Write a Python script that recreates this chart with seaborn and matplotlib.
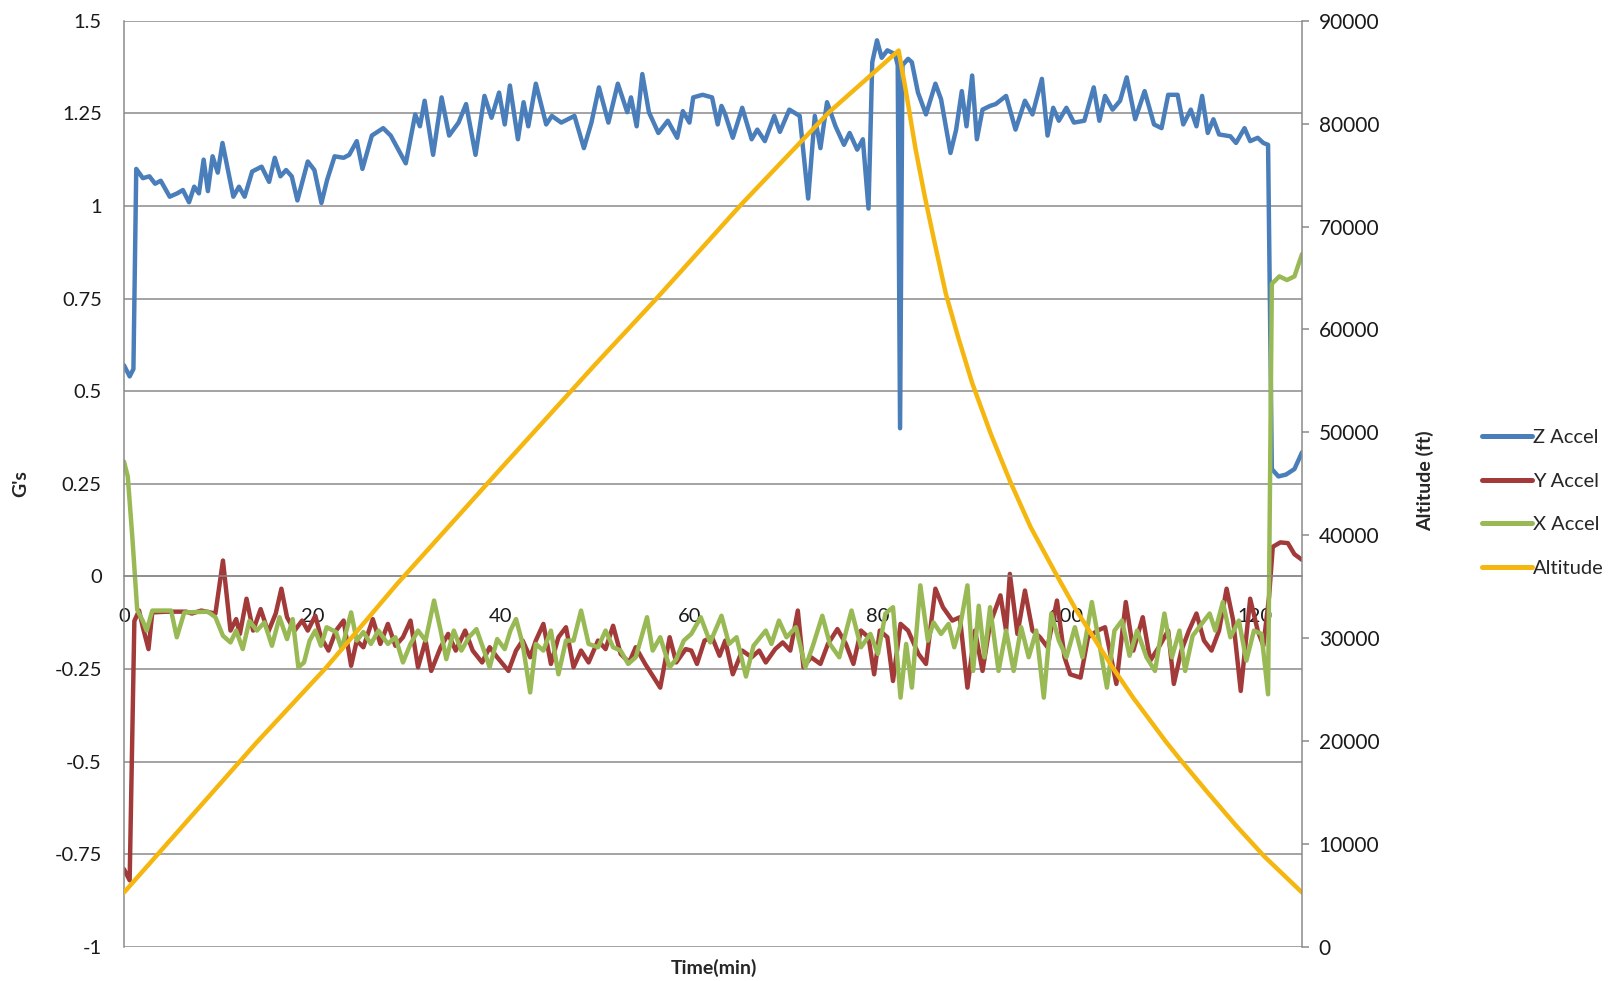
import matplotlib
matplotlib.use('Agg')
import matplotlib.pyplot as plt
import seaborn as sns

# Time (min) and readings for each series
Z_TIME = [0.0, 0.6, 1.0, 1.3, 2.0, 2.7, 3.3, 3.9, 4.85, 5.65, 6.25, 6.9, 7.45, 7.95, 8.45, 8.9, 9.4, 9.95,
          10.45, 11.6, 12.2, 12.8, 13.6, 14.6, 15.4, 16.0, 16.6, 17.2, 17.8, 18.4, 19.5, 20.2, 20.95, 21.55,
          22.35, 23.3, 23.9, 24.7, 25.3, 26.3, 27.5, 28.3, 29.9, 30.9, 31.4, 31.9, 32.8, 33.7, 34.5, 35.5,
          36.3, 37.3, 38.25, 39.0, 39.8, 40.4, 40.95, 41.8, 42.4, 42.9, 43.7, 44.8, 45.4, 46.4, 47.8, 48.8,
          49.6, 50.4, 51.4, 52.4, 53.4, 53.8, 54.4, 55.0, 55.7, 56.7, 57.7, 58.7, 59.3, 60.0, 60.4, 61.4,
          62.4, 63.0, 63.4, 63.8, 64.6, 65.6, 66.6, 67.2, 68.0, 69.0, 69.6, 70.6, 71.7, 72.6, 73.3, 73.9,
          74.6, 75.5, 76.4, 77.0, 77.8, 78.4, 79.0, 79.4, 79.9, 80.4, 81.0, 81.8, 82.1, 82.35, 82.6, 83.2,
          83.6, 84.25, 85.1, 86.1, 86.7, 87.7, 88.3, 88.9, 89.4, 90.0, 90.5, 91.1, 91.9, 92.5, 93.6, 94.6,
          95.6, 96.4, 97.4, 98.0, 98.6, 99.2, 100.0, 100.8, 101.9, 102.9, 103.5, 104.1, 104.9, 105.7, 106.4,
          107.3, 108.3, 109.3, 110.1, 110.8, 111.8, 112.4, 113.2, 113.8, 114.4, 115.0, 115.6, 116.2, 117.4,
          118.0, 118.9, 119.5, 120.3, 120.9, 121.4, 121.8, 122.5, 123.3, 124.2, 125.0]
Z_ACCEL = [0.57, 0.54, 0.56, 1.10, 1.075, 1.08, 1.06, 1.068, 1.025, 1.034, 1.043, 1.01, 1.052, 1.034, 1.125,
           1.04, 1.134, 1.09, 1.17, 1.025, 1.052, 1.025, 1.093, 1.106, 1.065, 1.13, 1.08, 1.097, 1.08, 1.015,
           1.12, 1.097, 1.008, 1.07, 1.134, 1.13, 1.138, 1.175, 1.10, 1.19, 1.21, 1.19, 1.115, 1.247, 1.215,
           1.284, 1.138, 1.293, 1.19, 1.225, 1.275, 1.138, 1.297, 1.238, 1.306, 1.22, 1.325, 1.18, 1.28,
           1.215, 1.33, 1.22, 1.243, 1.225, 1.243, 1.156, 1.225, 1.32, 1.225, 1.33, 1.253, 1.293, 1.215,
           1.356, 1.253, 1.197, 1.23, 1.184, 1.256, 1.225, 1.293, 1.30, 1.293, 1.22, 1.27, 1.247, 1.184,
           1.265, 1.18, 1.206, 1.175, 1.243, 1.20, 1.26, 1.243, 1.02, 1.243, 1.156, 1.28, 1.215, 1.165,
           1.197, 1.152, 1.18, 0.993, 1.388, 1.447, 1.40, 1.42, 1.41, 1.38, 0.40, 1.38, 1.397, 1.388, 1.306,
           1.247, 1.33, 1.288, 1.143, 1.206, 1.31, 1.215, 1.352, 1.18, 1.26, 1.27, 1.275, 1.297, 1.206,
           1.284, 1.247, 1.343, 1.19, 1.265, 1.23, 1.265, 1.225, 1.23, 1.32, 1.23, 1.297, 1.26, 1.284, 1.347,
           1.234, 1.31, 1.22, 1.21, 1.30, 1.30, 1.22, 1.26, 1.215, 1.297, 1.197, 1.234, 1.193, 1.188, 1.17,
           1.21, 1.175, 1.184, 1.17, 1.165, 0.29, 0.27, 0.275, 0.29, 0.335]

Y_TIME = [0.0, 0.6, 1.1, 1.6, 2.0, 2.6, 3.0, 4.5, 6.6, 7.2, 8.2, 9.7, 10.5, 11.3, 11.9, 12.3, 13.0, 13.7,
          14.5, 15.3, 16.1, 16.7, 17.3, 18.1, 18.9, 19.5, 20.3, 20.9, 21.7, 22.5, 23.3, 24.1, 24.7, 25.4,
          26.4, 27.2, 28.0, 28.8, 29.6, 30.4, 31.2, 32.0, 32.6, 33.6, 34.4, 35.2, 36.2, 37.0, 38.0, 38.8,
          39.6, 40.8, 41.6, 42.3, 43.1, 43.7, 44.5, 45.3, 46.1, 46.9, 47.7, 48.5, 49.3, 50.3, 51.1, 51.9,
          52.7, 53.6, 54.3, 55.3, 56.9, 57.9, 58.6, 59.6, 60.2, 60.8, 61.6, 62.4, 63.2, 63.8, 64.6, 65.6,
          66.6, 67.4, 68.1, 69.1, 69.9, 70.7, 71.5, 72.1, 72.9, 73.9, 74.7, 75.7, 76.6, 77.4, 78.2, 79.0,
          79.6, 80.2, 81.0, 81.6, 82.4, 83.2, 84.3, 85.1, 86.1, 86.9, 87.9, 88.7, 89.5, 90.3, 91.1, 91.9,
          93.0, 93.6, 94.0, 94.8, 95.6, 96.4, 97.2, 98.0, 99.0, 99.8, 100.4, 101.5, 102.3, 103.3, 104.1,
          105.3, 106.3, 107.1, 108.1, 108.9, 109.8, 110.8, 111.4, 112.2, 113.0, 113.8, 114.6, 115.4, 116.2,
          117.0, 117.7, 118.5, 119.5, 120.3, 120.9, 121.5, 121.9, 122.7, 123.5, 124.2, 125.0]
Y_ACCEL = [-0.79, -0.82, -0.12, -0.092, -0.137, -0.196, -0.097, -0.095, -0.095, -0.10, -0.092, -0.10, 0.043,
           -0.146, -0.115, -0.155, -0.06, -0.146, -0.088, -0.15, -0.10, -0.033, -0.11, -0.146, -0.119,
           -0.146, -0.106, -0.164, -0.20, -0.146, -0.119, -0.241, -0.173, -0.191, -0.115, -0.182, -0.128,
           -0.187, -0.164, -0.119, -0.245, -0.173, -0.255, -0.191, -0.155, -0.20, -0.146, -0.20, -0.232,
           -0.191, -0.218, -0.255, -0.20, -0.173, -0.218, -0.173, -0.128, -0.236, -0.164, -0.137, -0.245,
           -0.20, -0.232, -0.173, -0.196, -0.133, -0.209, -0.232, -0.191, -0.236, -0.30, -0.164, -0.232,
           -0.196, -0.20, -0.236, -0.173, -0.164, -0.214, -0.173, -0.264, -0.20, -0.218, -0.20, -0.232,
           -0.196, -0.178, -0.20, -0.092, -0.245, -0.218, -0.236, -0.182, -0.142, -0.182, -0.236, -0.146,
           -0.164, -0.264, -0.146, -0.164, -0.282, -0.128, -0.146, -0.209, -0.236, -0.033, -0.083, -0.119,
           -0.11, -0.30, -0.146, -0.255, -0.128, -0.051, -0.146, 0.007, -0.155, -0.038, -0.146, -0.164,
           -0.191, -0.065, -0.218, -0.264, -0.273, -0.164, -0.146, -0.137, -0.29, -0.069, -0.20, -0.11,
           -0.227, -0.191, -0.146, -0.29, -0.20, -0.146, -0.10, -0.173, -0.20, -0.146, -0.033, -0.119,
           -0.309, -0.06, -0.146, -0.187, -0.056, 0.08, 0.092, 0.09, 0.06, 0.045]

X_TIME = [0.0, 0.4, 0.9, 1.4, 2.0, 2.4, 3.0, 5.0, 5.6, 6.4, 8.9, 9.7, 10.5, 11.3, 11.9, 12.6, 13.3, 14.1,
          14.9, 15.7, 16.5, 17.3, 17.9, 18.5, 19.1, 19.7, 20.3, 20.9, 21.5, 22.5, 23.1, 24.1, 24.7, 25.4,
          26.2, 27.0, 28.0, 28.8, 29.6, 30.4, 31.2, 32.0, 32.9, 33.6, 34.2, 35.0, 35.8, 36.6, 37.4, 38.2,
          38.8, 39.6, 40.4, 41.0, 41.6, 42.3, 43.1, 43.7, 44.5, 45.3, 46.1, 46.9, 47.7, 48.5, 49.3, 50.3,
          51.1, 51.9, 52.7, 53.5, 54.3, 55.5, 56.1, 56.9, 57.9, 58.6, 59.4, 60.2, 61.2, 62.2, 63.4, 64.2,
          65.0, 66.0, 66.8, 68.1, 68.7, 69.5, 70.3, 71.3, 72.3, 73.1, 74.1, 74.9, 75.9, 77.2, 78.2, 79.2,
          80.0, 80.8, 81.6, 82.4, 83.0, 83.6, 84.5, 85.3, 85.9, 86.7, 87.5, 88.1, 88.7, 89.5, 90.1, 90.7,
          91.3, 91.9, 92.8, 93.6, 94.4, 95.2, 96.0, 96.8, 97.6, 98.4, 99.2, 100.0, 100.9, 101.7, 102.7,
          103.5, 104.3, 105.1, 105.9, 106.7, 107.5, 108.5, 109.4, 110.4, 111.2, 112.0, 112.6, 113.4, 114.2,
          115.2, 115.8, 116.6, 117.4, 118.3, 119.1, 119.9, 120.7, 121.4, 121.8, 122.6, 123.4, 124.2, 125.0]
X_ACCEL = [0.31, 0.27, 0.10, -0.09, -0.12, -0.146, -0.092, -0.092, -0.164, -0.097, -0.095, -0.11, -0.16,
           -0.178, -0.146, -0.196, -0.12, -0.146, -0.124, -0.187, -0.11, -0.169, -0.115, -0.245, -0.232,
           -0.173, -0.146, -0.187, -0.137, -0.15, -0.196, -0.097, -0.173, -0.15, -0.182, -0.146, -0.182,
           -0.164, -0.232, -0.182, -0.146, -0.173, -0.065, -0.146, -0.223, -0.146, -0.20, -0.164, -0.142,
           -0.20, -0.245, -0.169, -0.196, -0.146, -0.115, -0.182, -0.313, -0.182, -0.20, -0.146, -0.264,
           -0.173, -0.173, -0.092, -0.182, -0.191, -0.146, -0.191, -0.20, -0.236, -0.218, -0.11, -0.20,
           -0.164, -0.245, -0.223, -0.173, -0.155, -0.11, -0.178, -0.106, -0.182, -0.164, -0.27, -0.187,
           -0.146, -0.182, -0.119, -0.164, -0.137, -0.245, -0.187, -0.106, -0.182, -0.218, -0.092, -0.191,
           -0.155, -0.209, -0.10, -0.083, -0.327, -0.182, -0.30, -0.024, -0.173, -0.124, -0.155, -0.128,
           -0.191, -0.137, -0.024, -0.255, -0.079, -0.218, -0.083, -0.255, -0.146, -0.255, -0.137, -0.218,
           -0.146, -0.327, -0.10, -0.173, -0.218, -0.137, -0.218, -0.069, -0.182, -0.30, -0.146, -0.119,
           -0.214, -0.146, -0.218, -0.255, -0.10, -0.218, -0.146, -0.255, -0.16, -0.133, -0.10, -0.146,
           -0.069, -0.164, -0.119, -0.227, -0.146, -0.155, -0.318, 0.79, 0.81, 0.80, 0.81, 0.87]

ALT_TIME = [0.0, 14.0, 21.5, 29.0, 40.0, 50.0, 56.3, 65.5, 74.8, 82.2, 83.0, 84.0, 85.0, 86.0, 87.2, 88.5,
            90.0, 92.0, 94.0, 96.2, 98.8, 101.0, 104.8, 107.1, 110.6, 112.0, 115.0, 118.0, 121.0, 125.0]
ALTITUDE = [5300, 19800, 27200, 35300, 46500, 56600, 62800, 72150, 81100, 87100, 83000, 77500, 72800, 68500,
            63500, 59300, 54800, 49800, 45300, 40800, 36400, 32800, 27300, 24200, 19900, 18300, 15000, 11800,
            8800, 5300]

G_TICKS = [-1, -0.75, -0.5, -0.25, 0, 0.25, 0.5, 0.75, 1, 1.25, 1.5]
G_LABELS = ['-1', '-0.75', '-0.5', '-0.25', '0', '0.25', '0.5', '0.75', '1', '1.25', '1.5']
TIME_TICKS = [0, 20, 40, 60, 80, 100, 120]
ALT_TICKS = [0, 10000, 20000, 30000, 40000, 50000, 60000, 70000, 80000, 90000]

COLORS = {
    'Z Accel': '#4a7ebb',
    'Y Accel': '#a33a3a',
    'X Accel': '#98b954',
    'Altitude': '#f5b70f',
}
GRID = '#8a8a8a'
FONT = ['Lato', 'DejaVu Sans']


def main():
    sns.set_theme(style='white')
    plt.rcParams['font.family'] = FONT

    fig = plt.figure(figsize=(16.22, 9.81), dpi=100)
    W, H = 1622, 981
    left, right, top, bottom = 124, 1302, 20.7, 947
    ax = fig.add_axes([left / W, 1 - bottom / H, (right - left) / W, (bottom - top) / H])

    lw = 3.2
    line_kws = dict(lw=lw, estimator=None, sort=False, solid_joinstyle='round', solid_capstyle='round')
    sns.lineplot(x=Z_TIME, y=Z_ACCEL, ax=ax, color=COLORS['Z Accel'], **line_kws)
    sns.lineplot(x=Y_TIME, y=Y_ACCEL, ax=ax, color=COLORS['Y Accel'], **line_kws)
    sns.lineplot(x=X_TIME, y=X_ACCEL, ax=ax, color=COLORS['X Accel'], **line_kws)

    ax.set_xlim(0, 125)
    ax.set_ylim(-1, 1.5)
    ax.set_yticks(G_TICKS)
    ax.set_yticklabels(G_LABELS)
    ax.set_xticks(TIME_TICKS)
    ax.yaxis.grid(True, color=GRID, lw=1.1)
    ax.xaxis.grid(False)
    ax.set_axisbelow(True)
    for side in ['top', 'right']:
        ax.spines[side].set_visible(False)
    ax.spines['left'].set_color(GRID)
    ax.spines['left'].set_linewidth(1.1)
    ax.spines['bottom'].set_position(('data', 0))
    ax.spines['bottom'].set_color(GRID)
    ax.spines['bottom'].set_linewidth(1.1)
    ax.tick_params(axis='y', length=0, pad=16, labelsize=14.5, labelcolor='#1a1a1a')
    ax.tick_params(axis='x', length=0, pad=23, labelsize=14.5, labelcolor='#1a1a1a')
    ax.set_xlabel('')
    ax.set_ylabel('')

    ax2 = ax.twinx()
    sns.lineplot(x=ALT_TIME, y=ALTITUDE, ax=ax2, color=COLORS['Altitude'], **line_kws)
    ax2.set_ylim(0, 90000)
    ax2.set_yticks(ALT_TICKS)
    ax2.set_yticklabels([str(v) for v in ALT_TICKS])
    ax2.grid(False)
    for side in ['top', 'left', 'bottom']:
        ax2.spines[side].set_visible(False)
    ax2.spines['right'].set_color(GRID)
    ax2.spines['right'].set_linewidth(1.1)
    ax2.tick_params(axis='y', length=5, width=1.1, color=GRID, pad=7, labelsize=15, labelcolor='#1a1a1a')
    ax2.set_ylabel('')

    fig.text(21 / W, 1 - 484 / H, "G's", rotation=90, ha='center', va='center',
             fontsize=14, fontweight='bold')
    fig.text(1425 / W, 1 - 481 / H, 'Altitude (ft)', rotation=90, ha='center', va='center',
             fontsize=14, fontweight='bold')
    fig.text(714 / W, 1 - 968 / H, 'Time(min)', ha='center', va='center',
             fontsize=14, fontweight='bold')

    handles = [plt.Line2D([], [], color=COLORS[k], lw=lw + 0.4) for k in COLORS]
    fig.legend(handles, list(COLORS), loc='center left', bbox_to_anchor=(1474 / W, 1 - 503 / H),
               frameon=False, fontsize=14.5, handlelength=2.5, handletextpad=0.05, labelspacing=1.33,
               borderaxespad=0)

    fig.savefig('out.png', dpi=100)


if __name__ == '__main__':
    main()
